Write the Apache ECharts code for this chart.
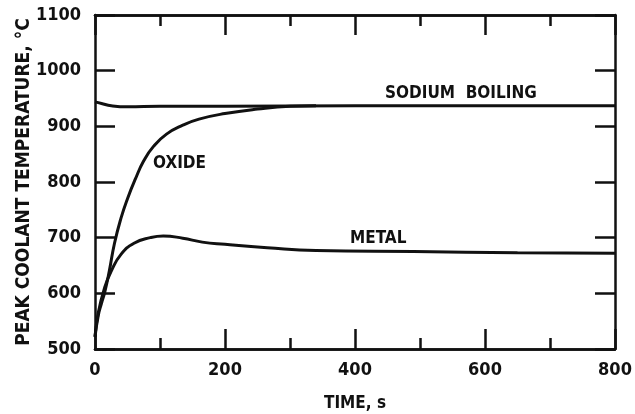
<!DOCTYPE html>
<html>
<head>
    <meta charset="utf-8">
    <title>Peak coolant temperature</title>
    <script src="https://cdn.jsdelivr.net/npm/echarts@6/dist/echarts.min.js"></script>
    <style type="text/css">
        html, body { margin: 0; padding: 0; background: #fff; }
        #main { width: 635px; height: 414px; }
    </style>
</head>
<body>
    <div id="main"></div>
    <script type="text/javascript">
        // values (time in s, temperature in °C)
        var sodiumTime = [0, 10, 25, 50, 100, 200, 400, 600, 800];
        var sodiumTemp = [944, 941, 937, 935, 936, 936, 937, 937, 937];

        var oxideTime = [0, 5, 10, 15, 22, 30, 40, 50, 62, 75, 90, 110, 135, 160, 200, 250, 300, 340];
        var oxideTemp = [522, 560, 582, 602, 640, 690, 735, 770, 805, 838, 864, 886, 902, 913, 923, 931, 936, 937];

        var metalTime = [0, 5, 15, 25, 40, 60, 85, 105, 135, 165, 200, 265, 340, 490, 650, 800];
        var metalTemp = [522, 565, 611, 640, 670, 690, 700, 703, 699, 692, 688, 682, 677, 675, 673, 672];

        var xTicks = [0, 200, 400, 600, 800];
        var yTicks = [500, 600, 700, 800, 900, 1000, 1100];

        function pairs(t, v) {
            return t.map(function (x, i) { return [x, v[i]]; });
        }

        var ink = '#111';
        var font = '"DejaVu Sans Condensed", "DejaVu Sans", sans-serif';
        var xMin = xTicks[0], xMax = xTicks[xTicks.length - 1];
        var yMin = yTicks[0], yMax = yTicks[yTicks.length - 1];

        var myChart = echarts.init(document.getElementById('main'));

        var lineStyle = { color: ink, width: 3 };
        var edge = { color: ink, width: 2.5 };

        // one axis frame side: long or short inside ticks, no labels
        function frameX(pos, step, len) {
            return {
                type: 'value', position: pos, min: xMin, max: xMax, interval: step,
                axisLine: { show: true, onZero: false, lineStyle: edge },
                axisTick: { inside: true, length: len, lineStyle: edge },
                axisLabel: { show: false }, splitLine: { show: false }
            };
        }

        myChart.setOption({
            backgroundColor: '#fff',
            animation: false,
            grid: { left: 95, right: 20, top: 15, bottom: 65, outerBoundsMode: 'none' },
            xAxis: [{
                type: 'value', min: xMin, max: xMax, interval: 200,
                name: 'TIME, s', nameLocation: 'middle', nameGap: 46, nameMoveOverlap: false,
                nameTextStyle: { color: ink, fontFamily: font, fontWeight: 'bold', fontSize: 17 },
                axisLine: { onZero: false, lineStyle: edge },
                axisTick: { inside: true, length: 20, lineStyle: edge },
                axisLabel: { color: ink, fontFamily: font, fontWeight: 'bold', fontSize: 18, margin: 12 },
                splitLine: { show: false }
            },
                frameX('bottom', 100, 11),
                frameX('top', 200, 20),
                frameX('top', 100, 11)
            ],
            yAxis: [{
                type: 'value', min: yMin, max: yMax, interval: 100,
                name: 'PEAK COOLANT TEMPERATURE, °C', nameLocation: 'middle', nameGap: 61, nameMoveOverlap: false,
                nameTextStyle: { color: ink, fontFamily: font, fontWeight: 'bold', fontSize: 19 },
                axisLine: { onZero: false, lineStyle: edge },
                axisTick: { inside: true, length: 20, lineStyle: edge },
                axisLabel: {
                    color: ink, fontFamily: font, fontWeight: 'bold', fontSize: 18, margin: 14,
                    formatter: function (v) { return String(v); }
                },
                splitLine: { show: false }
            }, {
                type: 'value', position: 'right', min: yMin, max: yMax, interval: 100,
                axisLine: { show: true, onZero: false, lineStyle: edge },
                axisTick: { inside: true, length: 20, lineStyle: edge },
                axisLabel: { show: false },
                splitLine: { show: false }
            }],
            series: [{
                name: 'SODIUM BOILING', type: 'line', smooth: true, symbol: 'none',
                data: pairs(sodiumTime, sodiumTemp), lineStyle: lineStyle
            }, {
                name: 'OXIDE', type: 'line', smooth: true, symbol: 'none',
                data: pairs(oxideTime, oxideTemp), lineStyle: lineStyle
            }, {
                name: 'METAL', type: 'line', smooth: true, symbol: 'none',
                data: pairs(metalTime, metalTemp), lineStyle: lineStyle
            }],
            graphic: [
                { type: 'text', left: 385, top: 85, style: { text: 'SODIUM  BOILING', fill: ink, font: 'bold 17px ' + font } },
                { type: 'text', left: 153, top: 155, style: { text: 'OXIDE', fill: ink, font: 'bold 17px ' + font } },
                { type: 'text', left: 350, top: 230, style: { text: 'METAL', fill: ink, font: 'bold 17px ' + font } }
            ]
        });
    </script>
</body>
</html>
